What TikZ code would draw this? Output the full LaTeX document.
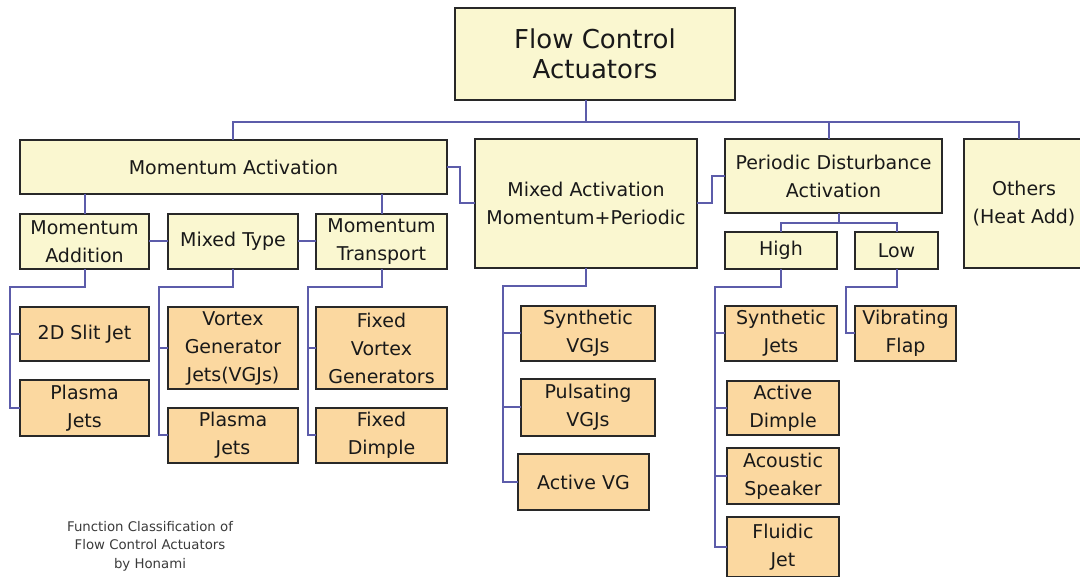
\documentclass[tikz,border=0pt]{standalone}
\usepackage{fontspec}
\newfontfamily\labelfont{DejaVu Sans}
\definecolor{cream}{RGB}{250,247,208}
\definecolor{peach}{RGB}{251,216,160}
\definecolor{linkblue}{RGB}{92,92,170}
\definecolor{edge}{RGB}{40,40,40}
\definecolor{ink}{RGB}{25,25,25}
\begin{document}
\begin{tikzpicture}[x=1pt,y=-1pt,
  box/.style={draw=edge, line width=1.5pt, fill=cream, align=center,
    inner sep=0pt, outer sep=0pt, text=ink,
    font=\labelfont\fontsize{19}{28}\selectfont},
  leaf/.style={box, fill=peach},
  link/.style={draw=linkblue, line width=2pt}]

\fill[white] (0,0) rectangle (1080,577);
\useasboundingbox (0,0) rectangle (1080,577);

% ---- top level ----
\node[box, minimum width=280, minimum height=92,
  font=\labelfont\fontsize{26}{30}\selectfont] (top) at (595,54) {Flow Control\\Actuators};

% ---- second level ----
\node[box, minimum width=427, minimum height=54] (ma) at (233.5,167) {Momentum Activation};
\node[box, minimum width=222, minimum height=129] (mix) at (586,203.5) {Mixed Activation\\Momentum+Periodic};
\node[box, minimum width=217, minimum height=74] (per) at (833.5,176) {Periodic Disturbance\\Activation};
\node[box, minimum width=120, minimum height=129] (oth) at (1024,203.5) {Others\\(Heat Add)};

% ---- third level ----
\node[box, minimum width=129, minimum height=55] (madd) at (84.5,241.5) {Momentum\\Addition};
\node[box, minimum width=130, minimum height=55] (mtyp) at (233,241.5) {Mixed Type};
\node[box, minimum width=131, minimum height=55] (mtr) at (381.5,241.5) {Momentum\\Transport};
\node[box, minimum width=112, minimum height=37] (high) at (781,250.5) {High};
\node[box, minimum width=83, minimum height=37] (low) at (896.5,250.5) {Low};

% ---- actuators ----
\node[leaf, minimum width=129, minimum height=54] (slit) at (84.5,334) {2D Slit Jet};
\node[leaf, minimum width=129, minimum height=56] (pja) at (84.5,408) {Plasma\\Jets};
\node[leaf, minimum width=130, minimum height=82] (vgj) at (233,348) {Vortex\\Generator\\Jets(VGJs)};
\node[leaf, minimum width=130, minimum height=55] (pjb) at (233,435.5) {Plasma\\Jets};
\node[leaf, minimum width=131, minimum height=82] (fvg) at (381.5,348) {Fixed\\Vortex\\Generators};
\node[leaf, minimum width=131, minimum height=55] (fd) at (381.5,435.5) {Fixed\\Dimple};
\node[leaf, minimum width=134, minimum height=55] (svgj) at (588,333.5) {Synthetic\\VGJs};
\node[leaf, minimum width=134, minimum height=57] (pvgj) at (588,407.5) {Pulsating\\VGJs};
\node[leaf, minimum width=131, minimum height=56] (avg) at (583.5,482) {Active VG};
\node[leaf, minimum width=112, minimum height=55] (sj) at (781,333.5) {Synthetic\\Jets};
\node[leaf, minimum width=112, minimum height=54] (ad) at (783,408) {Active\\Dimple};
\node[leaf, minimum width=112, minimum height=56] (as) at (783,476) {Acoustic\\Speaker};
\node[leaf, minimum width=112, minimum height=60] (fj) at (783,547) {Fluidic\\Jet};
\node[leaf, minimum width=101, minimum height=55] (vf) at (905.5,333.5) {Vibrating\\Flap};

% ---- caption ----
\node[align=center, text=ink!85, inner sep=0pt,
  font=\labelfont\fontsize{13.3}{18.5}\selectfont] (cap) at (150,546)
  {Function Classification of\\Flow Control Actuators\\by Honami};

% ---- main bus ----
\coordinate (busy) at (0,122);
\draw[link] ([xshift=-9]top.south) -- ([xshift=-9]top.south |- busy);
\draw[link] ([xshift=-1]ma.north) |- ([xshift=-5]oth.north |- busy) -- ([xshift=-5]oth.north);
\draw[link] ([xshift=-5]per.north) -- ([xshift=-5]per.north |- busy);

% ---- side links ----
\draw[link] (ma.east) -- ++(13,0) |- (mix.west);
\draw[link] (mix.east) -- ++(15,0) |- (per.west);

% ---- momentum activation subtypes ----
\draw[link] (madd.north |- ma.south) -- (madd.north);
\draw[link] (mtr.north |- ma.south) -- (mtr.north);
\draw[link] (madd.east) -- (mtyp.west);
\draw[link] (mtyp.east) -- (mtr.west);

% ---- periodic subtypes ----
\coordinate (pj) at ([xshift=5]per.south |- 0,223);
\draw[link] ([xshift=5]per.south) -- (pj);
\draw[link] (high.north) |- (pj) -| (low.north);

% ---- actuator trees ----
\coordinate (ca) at (10,287);
\draw[link] (madd.south) |- (ca) |- (pja.west);
\draw[link] (ca |- slit.west) -- (slit.west);

\coordinate (cb) at (159,287);
\draw[link] (mtyp.south) |- (cb) |- (pjb.west);
\draw[link] (cb |- vgj.west) -- (vgj.west);

\coordinate (cc) at (308,287);
\draw[link] (mtr.south) |- (cc) |- (fd.west);
\draw[link] (cc |- fvg.west) -- (fvg.west);

\coordinate (cd) at (503,286);
\draw[link] (mix.south) |- (cd) |- (avg.west);
\draw[link] (cd |- svgj.west) -- (svgj.west);
\draw[link] (cd |- pvgj.west) -- (pvgj.west);

\coordinate (ce) at (715,287);
\draw[link] (high.south) |- (ce) |- (fj.west);
\draw[link] (ce |- sj.west) -- (sj.west);
\draw[link] (ce |- ad.west) -- (ad.west);
\draw[link] (ce |- as.west) -- (as.west);

\coordinate (cf) at (846,287);
\draw[link] (low.south) |- (cf) |- (vf.west);
\end{tikzpicture}
\end{document}
